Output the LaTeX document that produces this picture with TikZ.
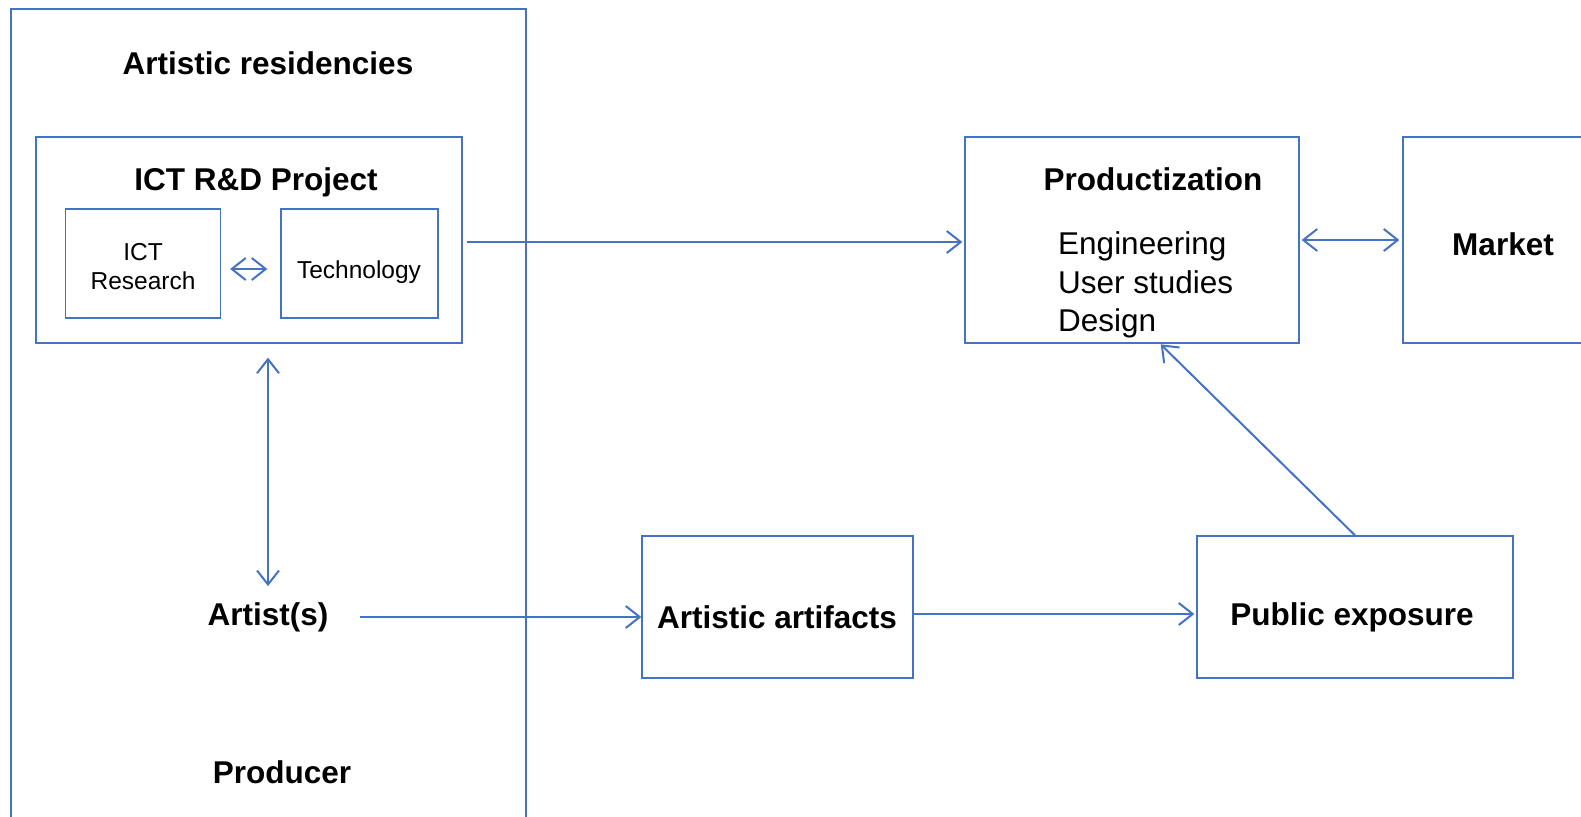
\documentclass[tikz,border=0pt]{standalone}
\usepackage{fontspec}
\setmainfont{Liberation Sans}
\usetikzlibrary{arrows.meta,calc}
\definecolor{lb}{HTML}{4472C4}
\begin{document}
\begin{tikzpicture}[x=1pt,y=-1pt,
 box/.style={draw=lb, line width=1.3pt, rectangle, inner sep=0pt},
 big/.style={font=\fontsize{31.5}{37.8}\selectfont\bfseries, inner sep=0pt},
 reg/.style={font=\fontsize{31.5}{38.3}\selectfont, inner sep=0pt, align=left},
 small/.style={font=\fontsize{24.5}{29}\selectfont, inner sep=0pt, align=center},
 arr/.style={draw=lb, line width=2pt, -{Straight Barb[length=14pt,width=22pt]}},
 darr/.style={draw=lb, line width=2pt, {Straight Barb[length=14pt,width=22pt]}-{Straight Barb[length=14pt,width=22pt]}},
]
\useasboundingbox (0,0) rectangle (1581,816);
\clip (0,0) rectangle (1581,816);

% outer residency frame
\node[box, minimum width=515pt, minimum height=851pt] (outer) at (268.5,434.5) {};
\node[big] (restitle) at (268,63) {Artistic residencies};

% ICT R&D project
\node[box, minimum width=426pt, minimum height=206pt] (ict) at (249,240) {};
\node[big] (icttitle) at (256,182) {ICT R\&D Project};
\node[box, minimum width=155pt, minimum height=109pt] (research) at (143,263.5) {};
\node[small] (researchtxt) at (143,267) {ICT\\Research};
\node[box, minimum width=157pt, minimum height=109pt] (tech) at (359.5,263.5) {};
\node[small] (techtxt) at (359,272) {Technology};

% Artist / Producer
\node[big] (artist) at (268,617) {Artist(s)};
\node[big] (producer) at (282,772) {Producer};

% Productization
\node[box, minimum width=334pt, minimum height=206pt] (prod) at (1132,240) {};
\node[big] (prodtitle) at (1153,179) {Productization};
\node[reg, anchor=west] (prodlist) at (1058,285) {Engineering\\User studies\\Design};

% Market
\node[box, minimum width=240pt, minimum height=206pt] (market) at (1523,240) {};
\node[big] (markettxt) at (1503,244) {Market};

% Artistic artifacts / Public exposure
\node[box, minimum width=271pt, minimum height=142pt] (artifacts) at (777.5,607) {};
\node[big] (artifactstxt) at (777,617) {Artistic artifacts};
\node[box, minimum width=316pt, minimum height=142pt] (public) at (1355,607) {};
\node[big] (publictxt) at (1352,617) {Public exposure};

% connectors
\draw[darr, shorten <=9pt, shorten >=13pt] ([yshift=-5.5pt]research.east) -- ([yshift=-5.5pt]tech.west);
\draw[arr, shorten <=4pt, shorten >=2pt] ([yshift=-2pt]ict.east) -- ([yshift=-2pt]prod.west);
\draw[darr, shorten <=2pt, shorten >=3pt] (prod.east) -- (market.west);
\draw[darr, shorten <=14pt, shorten >=16pt] (artist.north |- ict.south) -- (artist.north);
\draw[arr, shorten <=31pt] (artist.east) -- (artist.east -| artifacts.west);
\draw[arr, shorten >=2pt] ([yshift=-7pt]artifacts.east) -- ([yshift=-7pt]public.west);
\draw[arr, shorten >=1pt] (public.north) -- ([xshift=28pt]prod.south);
\end{tikzpicture}
\end{document}
